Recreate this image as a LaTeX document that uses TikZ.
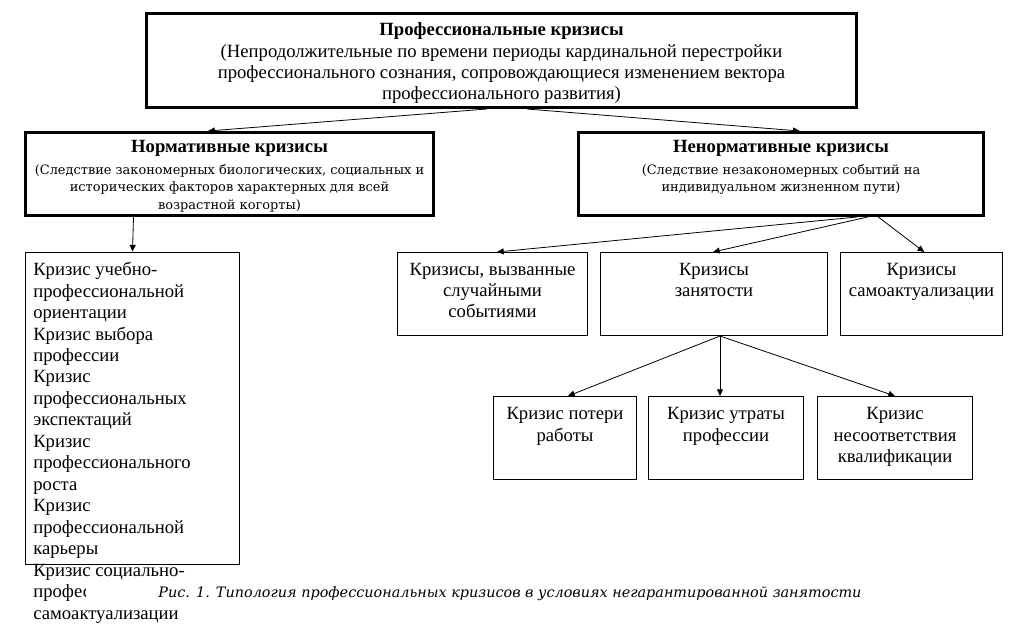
\documentclass[tikz,border=0pt]{standalone}
\usepackage{fontspec}
\setmainfont{Liberation Serif}
\newfontfamily\subfont{DejaVu Serif}
\usetikzlibrary{arrows.meta,positioning}

\tikzset{
  thickbox/.style={draw, line width=2.25pt, inner sep=0pt},
  thinbox/.style={draw, line width=0.75pt, inner sep=0pt},
  txt/.style={inner sep=0pt, align=center, font=\fontsize{14}{16}\selectfont},
  subtxt/.style={inner sep=0pt, align=center, font=\subfont\fontsize{9.7}{13.3}\selectfont},
  arr/.style={-{Triangle[length=5pt,width=4.5pt]}, line width=0.6pt}
}

\begin{document}
\begin{tikzpicture}[x=0.75pt,y=-0.75pt]
\useasboundingbox (0,0) rectangle (1009,624);

\node[thickbox, minimum width=532.5pt, minimum height=70.5pt] (prof) at (501.5,60.5) {};
\node[txt, below=8pt of prof.north] (proftxt) {\textbf{Профессиональные кризисы}\\
  (Непродолжительные по времени периоды кардинальной перестройки\\
  профессионального сознания, сопровождающиеся изменением вектора\\
  профессионального развития)};

\node[thickbox, minimum width=306pt, minimum height=62.25pt] (norm) at (229.5,174) {};
\node[txt, below=7pt of norm.north] (normtitle) {\textbf{Нормативные кризисы}};
\node[subtxt, below=5pt of normtitle] (normtxt) {(Следствие закономерных биологических, социальных и\\
  исторических факторов характерных для всей\\
  возрастной когорты)};

\node[thickbox, minimum width=303.75pt, minimum height=62.25pt] (nonnorm) at (781,174) {};
\node[txt, below=7pt of nonnorm.north] (nonnormtitle) {\textbf{Ненормативные кризисы}};
\node[subtxt, below=5pt of nonnormtitle] (nonnormtxt) {(Следствие незакономерных событий на\\
  индивидуальном жизненном пути)};

\node[thinbox, minimum width=160.5pt, minimum height=234pt] (list) at (132.5,408) {};
\node[txt, align=left, anchor=north west, font=\fontsize{14}{16.1}\selectfont] (listtxt) at (33,262) {Кризис учебно-\\
  профессиональной\\ориентации\\Кризис выбора\\профессии\\Кризис\\профессиональных\\
  экспектаций\\Кризис\\профессионального\\роста\\Кризис\\профессиональной\\карьеры\\
  Кризис социально-\\профессиональной\\самоактуализации};

\node[thinbox, minimum width=142.5pt, minimum height=62.25pt] (random) at (492.5,294) {};
\node[txt, below=8pt of random.north] (randomtxt) {Кризисы, вызванные\\случайными\\событиями};
\node[thinbox, minimum width=170.25pt, minimum height=62.25pt] (job) at (714,294) {};
\node[txt, below=8pt of job.north] (jobtxt) {Кризисы\\занятости};
\node[thinbox, minimum width=121.5pt, minimum height=62.25pt] (self) at (921.5,294) {};
\node[txt, below=8pt of self.north] (selftxt) {Кризисы\\самоактуализации};

\node[thinbox, minimum width=107.25pt, minimum height=62.25pt] (loss) at (565,438) {};
\node[txt, below=8.5pt of loss.north] (losstxt) {Кризис потери\\работы};
\node[thinbox, minimum width=116.25pt, minimum height=62.25pt] (prof loss) at (726,438) {};
\node[txt, below=8.5pt of prof loss.north] (proflosstxt) {Кризис утраты\\профессии};
\node[thinbox, minimum width=116.25pt, minimum height=62.25pt] (qual) at (895,438) {};
\node[txt, below=8.5pt of qual.north] (qualtxt) {Кризис\\несоответствия\\квалификации};

\draw[arr] ([xshift=-11pt]prof.south) -- ([xshift=-16pt]norm.north);
\draw[arr] ([xshift=19pt]prof.south) -- ([xshift=14pt]nonnorm.north);
\draw[arr] ([xshift=-72pt]norm.south) -- (list.north);
\draw[arr] ([xshift=57pt]nonnorm.south) -- ([xshift=3.4pt]random.north);
\draw[arr] ([xshift=65pt]nonnorm.south) -- ([xshift=-0.75pt]job.north);
\draw[arr] ([xshift=73pt]nonnorm.south) -- ([xshift=2pt]self.north);
\draw[arr] ([xshift=4.5pt]job.south) -- ([xshift=2.25pt]loss.north);
\draw[arr] ([xshift=4.5pt]job.south) -- ([xshift=-4.5pt]prof loss.north);
\draw[arr] ([xshift=4.5pt]job.south) -- (qual.north);

\node[fill=white, inner sep=0pt, minimum width=636pt, minimum height=17pt,
  font=\subfont\itshape\fontsize{10.8}{12}\selectfont] (caption) at (510,594)
  {Рис. 1. Типология профессиональных кризисов в условиях негарантированной занятости};
\end{tikzpicture}
\end{document}
